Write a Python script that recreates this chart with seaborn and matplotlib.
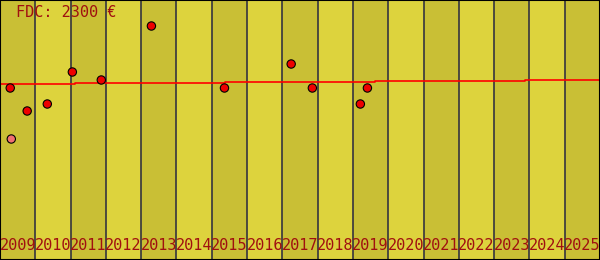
import matplotlib
matplotlib.use("Agg")
import matplotlib.pyplot as plt
import seaborn as sns
import pandas as pd

# Data
years = list(range(2009, 2026))
year_labels = [str(y) for y in years]
title_text = "FDC: 2300 €"

# sale points (time in fractional years, price in €)
sale_time = [2009.29, 2009.77, 2010.34, 2011.05, 2011.87, 2013.29,
             2015.36, 2017.25, 2017.85, 2019.21, 2019.41, 2009.32]
sale_price = [1720, 1490, 1560, 1880, 1800, 2340,
              1720, 1960, 1720, 1560, 1720, 1210]
sale_kind = ["normal"] * 11 + ["other"]

# step line (period averages)
step_time = [2009.0, 2011.125, 2015.375, 2019.625, 2023.875, 2026.0]
step_price = [1760, 1770, 1780, 1790, 1800, 1800]

sns.set_theme(style="white")
plt.rcParams['font.family'] = ['DejaVu Sans Mono', 'DejaVu Sans']

fig = plt.figure(figsize=(6, 2.6), dpi=100)
ax = fig.add_axes([0, 0, 1, 1])

dark = "#c9bf35"
light = "#ddd33d"
for i, y in enumerate(years):
    ax.axvspan(y, y + 1, color=dark if i % 2 == 0 else light, lw=0, zorder=0)
    if i > 0:
        ax.axvline(y, color="#35343f", lw=1.2, zorder=1)

steps = pd.DataFrame({"t": step_time, "p": step_price})
sns.lineplot(data=steps, x="t", y="p", drawstyle="steps-post", color="#ff0000",
             lw=1.2, estimator=None, ax=ax, zorder=2)

pts = pd.DataFrame({"t": sale_time, "p": sale_price, "k": sale_kind})
sns.scatterplot(data=pts, x="t", y="p", hue="k",
                palette={"normal": "#ee0000", "other": "#f07070"},
                s=36, edgecolor="black", linewidth=0.8, legend=False, ax=ax, zorder=3)

for y, lab in zip(years, year_labels):
    ax.text(y + 0.5, 0.055, lab, transform=ax.get_xaxis_transform(),
            ha="center", va="center", fontsize=11, color="#a01010", zorder=4)

ax.text(16 / 600, 1 - 12 / 260, title_text, transform=ax.transAxes,
        ha="left", va="center", fontsize=11, color="#a01010", zorder=4)

ax.set_xlim(2009, 2026)
ax.set_ylim(0, 2600)
ax.set_xlabel("")
ax.set_ylabel("")
ax.set_xticks([])
ax.set_yticks([])
for sp in ax.spines.values():
    sp.set_visible(True)
    sp.set_color("black")
    sp.set_linewidth(1.5)

fig.savefig("out.png", dpi=100)
